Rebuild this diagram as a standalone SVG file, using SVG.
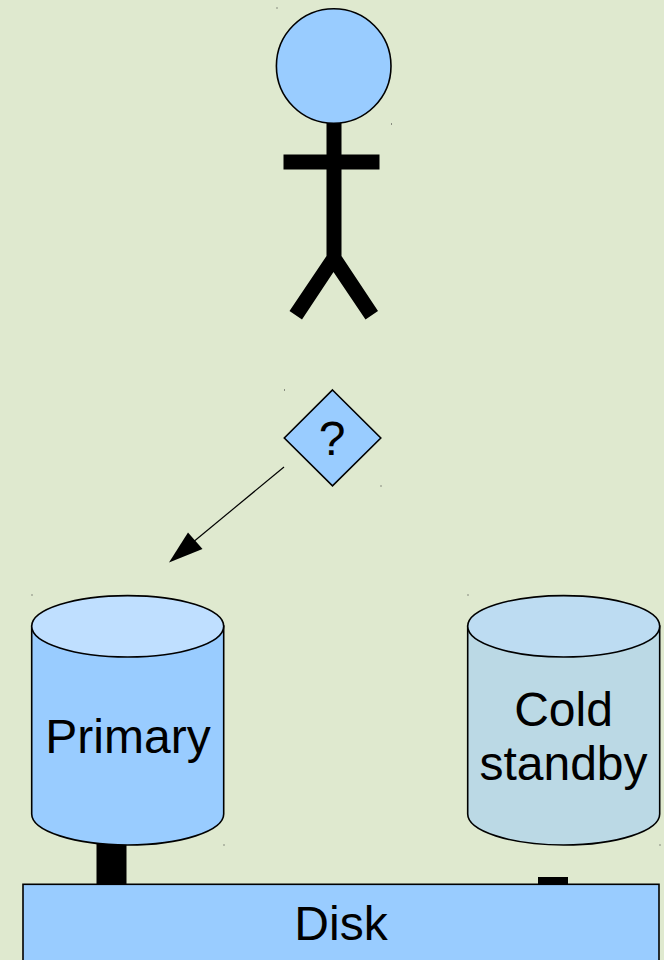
<svg xmlns="http://www.w3.org/2000/svg" width="664" height="960" viewBox="0 0 664 960">
<style>
text{font-family:"Liberation Sans",Arial,sans-serif;fill:#000;text-anchor:middle}
.l{font-size:48px}
.o{stroke:#000;stroke-width:1.6}
.b{fill:#99ccff}
.k{fill:#000}
.d{fill:#333}
</style>
<rect width="664" height="960" fill="#dfe9cf"/>
<g id="specks">
<rect class="d" x="276.5" y="7.5" width="1" height="1"/>
<rect class="d" x="391" y="123.5" width="1" height="1"/>
<rect class="d" x="284" y="389.5" width="1" height="1"/>
<rect class="d" x="380.5" y="485.5" width="1" height="1"/>
<rect class="d" x="31.5" y="594.5" width="1" height="1"/>
<rect class="d" x="223.5" y="844.5" width="1" height="1"/>
<rect class="d" x="467.5" y="594.5" width="1" height="1"/>
<rect class="d" x="659.5" y="844.5" width="1" height="1"/>
</g>
<g id="connectors">
<rect class="k" x="96.5" y="840" width="30" height="46"/>
<rect class="k" x="538" y="877" width="30" height="9"/>
<line x1="284" y1="467" x2="192" y2="543" stroke="#000" stroke-width="1.2"/>
<polygon class="k" points="169,562.5 188,532.5 202.5,549"/>
</g>
<g id="person">
<polygon class="k" points="326.5,120 341.5,120 341.5,154.5 379.5,154.5 379.5,169.5 341.5,169.5 341.5,256 378,311 365.5,319.5 333.5,272 302,319.5 289.5,311 326.5,256 326.5,169.5 283.5,169.5 283.5,154.5 326.5,154.5"/>
<circle class="b o" cx="333.7" cy="66" r="57.3"/>
</g>
<g id="decision">
<polygon class="b o" points="332.5,390 380.8,438 332.5,485.8 284.3,438"/>
<text class="l" x="332" y="455">?</text>
</g>
<g id="primary">
<path class="b o" d="M31.7 626V814C31.7 831 74.7 845 127.7 845S223.7 831 223.7 814V626Z"/>
<ellipse class="o" fill="#bfdfff" cx="127.7" cy="626.3" rx="96" ry="30.7"/>
<text class="l" x="128" y="753">Primary</text>
</g>
<g id="standby">
<path class="o" fill="#bbd9e5" d="M467.7 626V814C467.7 831 510.7 845 563.7 845S659.7 831 659.7 814V626Z"/>
<ellipse class="o" fill="#bddcf2" cx="563.7" cy="626.3" rx="96" ry="30.7"/>
<text class="l" x="563.5" y="726">Cold</text>
<text class="l" x="563.5" y="780">standby</text>
</g>
<g id="disk">
<rect class="b o" x="23" y="884.3" width="636" height="90"/>
<text class="l" x="341" y="940">Disk</text>
</g>
</svg>
